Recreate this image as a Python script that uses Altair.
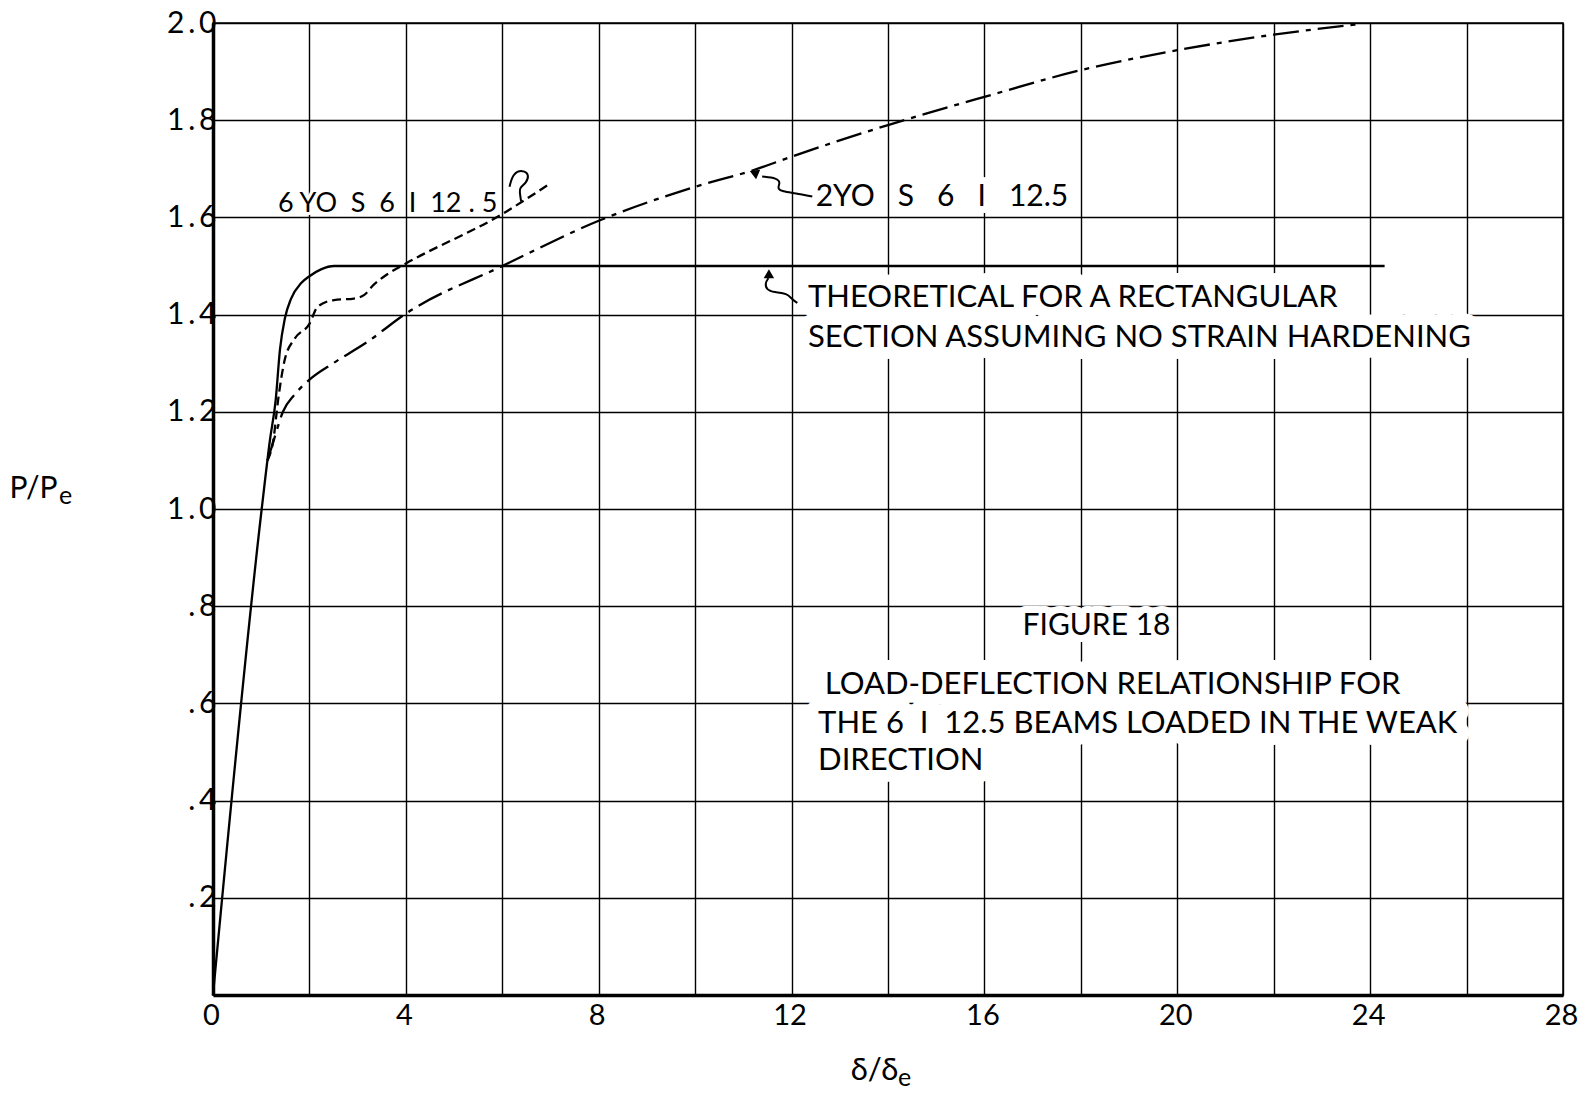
import altair as alt
import pandas as pd

# ---------------- data ----------------
theo_x = [0.0, 1.01, 1.18, 1.30, 1.39, 1.49, 1.62, 1.83, 2.0, 2.24, 2.51, 24.3]
theo_y = [0.0, 1.0, 1.141, 1.224, 1.329, 1.392, 1.433, 1.465, 1.479, 1.493, 1.5, 1.5]

s6_x = [1.13, 1.25, 1.35, 1.49, 1.69, 2.0, 2.17, 2.51, 2.92, 3.13, 3.33, 3.60, 4.0, 6.0, 6.98]
s6_y = [1.10, 1.141, 1.224, 1.308, 1.350, 1.381, 1.416, 1.430, 1.433, 1.440, 1.461, 1.482, 1.505, 1.607, 1.669]

s2_x = [1.13, 1.28, 1.45, 1.69, 2.0, 2.51, 3.19, 4.0, 6.0, 8.0, 10.0, 11.2, 12.0, 14.0, 16.0, 18.0, 20.0, 22.0, 23.8]
s2_y = [1.10, 1.148, 1.20, 1.235, 1.266, 1.301, 1.343, 1.402, 1.500, 1.593, 1.663, 1.697, 1.725, 1.79, 1.848, 1.903, 1.944, 1.976, 1.998]

# hand-drawn leader squiggles
lead6_x = [6.39, 6.36, 6.36, 6.50, 6.56, 6.43, 6.22, 6.15]
lead6_y = [1.633, 1.653, 1.661, 1.671, 1.688, 1.698, 1.691, 1.663]
lead2_x = [11.39, 11.70, 11.77, 11.70, 11.81, 12.08, 12.43]
lead2_y = [1.684, 1.681, 1.671, 1.660, 1.653, 1.650, 1.643]
leadT_x = [11.52, 11.45, 11.48, 11.64, 11.91, 12.01, 12.12]
leadT_y = [1.475, 1.465, 1.451, 1.446, 1.444, 1.431, 1.424]

arrow_x = [11.22, 11.53]
arrow_y = [1.692, 1.484]
arrow_shape = ["triangle-left", "triangle-up"]
arrow_angle = [23, 0]

NB = "\u00a0"
ann_text = [
    f"6{NB}YO{NB} S{NB} 6{NB} I{NB} 12{NB}.{NB}5",
    f"2YO{NB}{NB} S{NB}{NB} 6{NB}{NB} I{NB}{NB} 12.5",
    "THEORETICAL FOR A RECTANGULAR",
    "SECTION ASSUMING NO STRAIN HARDENING",
    "FIGURE 18",
    "LOAD-DEFLECTION RELATIONSHIP FOR",
    f"THE 6{NB} I{NB}  12.5 BEAMS LOADED IN THE WEAK",
    "DIRECTION",
]
ann_x = [1.35, 12.5, 12.34, 12.34, 16.79, 12.69, 12.55, 12.55]
ann_y = [1.628, 1.642, 1.434, 1.351, 0.759, 0.638, 0.558, 0.482]
ann_size = [27, 30, 31, 31, 30, 31, 31, 31]
ann_halo = [6, 14, 24, 24, 14, 24, 24, 24]

x_ticks = list(range(0, 29, 2))
y_ticks = [round(i * 0.2, 1) for i in range(11)]

FONT = "Lato"

# ---------------- frames ----------------
def frame(xs, ys):
    return pd.DataFrame({"x": xs, "y": ys, "i": list(range(len(xs)))})

theo_df = frame(theo_x, theo_y)
s6_df = frame(s6_x, s6_y)
s2_df = frame(s2_x, s2_y)
l6_df = frame(lead6_x, lead6_y)
l2_df = frame(lead2_x, lead2_y)
lT_df = frame(leadT_x, leadT_y)
arr_df = pd.DataFrame({"x": arrow_x, "y": arrow_y, "shape": arrow_shape, "angle": arrow_angle})
ann_df = pd.DataFrame({"t": ann_text, "x": ann_x, "y": ann_y, "s": ann_size, "h": ann_halo})

xs = alt.Scale(domain=[0, 28], nice=False, zero=False)
ys = alt.Scale(domain=[0, 2.0], nice=False, zero=False)

x_axis = alt.Axis(
    values=x_ticks,
    labelExpr="datum.value % 4 == 0 ? datum.label : ''",
    labelFont=FONT, labelFontSize=29, labelColor="black", labelPadding=6, labelOffset=-2,
    labelFlush=False,
    ticks=False, grid=True, gridColor="black", gridWidth=1.4,
    domainColor="black", domainWidth=3.5,
    title="δ/δ", titleFont=FONT, titleFontSize=31, titleFontWeight="normal", titleColor="black",
    titleX=661, titleY=75, titleAlign="center", titleBaseline="middle",
)
y_axis = alt.Axis(
    values=y_ticks,
    labelExpr="datum.value == 0 ? '' : replace((datum.value >= 1 ? format(datum.value, '.1f') : replace(format(datum.value, '.1f'), '0.', '.')), '.', '\u2009.\u2009')",
    labelFont=FONT, labelFontSize=30, labelColor="black", labelPadding=-3,
    ticks=False, grid=True, gridColor="black", gridWidth=1.4,
    domainColor="black", domainWidth=3.5,
    title="P/P", titleFont=FONT, titleFontSize=30, titleFontWeight="normal", titleColor="black",
    titleAngle=0, titleX=-180, titleY=465, titleAlign="center", titleBaseline="middle",
)

def X():
    return alt.X("x:Q", scale=xs, axis=x_axis)

def Y():
    return alt.Y("y:Q", scale=ys, axis=y_axis)

def curve(df, dash=None, interp="monotone", width=2.3):
    kw = dict(color="black", strokeWidth=width, interpolate=interp)
    if dash:
        kw["strokeDash"] = dash
    return alt.Chart(df).mark_line(**kw).encode(x=X(), y=Y(), order="i:Q")

theo = curve(theo_df)
six = curve(s6_df, dash=[9, 5])
two = curve(s2_df, dash=[26, 7, 5, 7])
l6 = curve(l6_df, interp="basis", width=2)
l2 = curve(l2_df, interp="basis", width=2)
lT = curve(lT_df, interp="basis", width=2)

arrows = alt.Chart(arr_df).mark_point(filled=True, color="black", opacity=1, size=110).encode(
    x=X(), y=Y(),
    shape=alt.Shape("shape:N", scale=None),
    angle=alt.Angle("angle:Q", scale=None),
)

halo = alt.Chart(ann_df).mark_text(
    align="left", baseline="middle", font=FONT, fill="white", stroke="white", strokeJoin="round"
).encode(
    x=X(), y=Y(), text="t:N",
    size=alt.Size("s:Q", scale=None),
    strokeWidth=alt.StrokeWidth("h:Q", scale=None),
)
label = alt.Chart(ann_df).mark_text(
    align="left", baseline="middle", font=FONT, color="black"
).encode(x=X(), y=Y(), text="t:N", size=alt.Size("s:Q", scale=None))

# subscript "e" of the two axis titles
sub_y = alt.Chart(pd.DataFrame({"t": ["e"]})).mark_text(
    text="e", align="left", baseline="alphabetic", font=FONT, fontSize=25, color="black"
).encode(x=alt.value(-154), y=alt.value(481))
sub_x = alt.Chart(pd.DataFrame({"t": ["e"]})).mark_text(
    text="e", align="left", baseline="alphabetic", font=FONT, fontSize=25, color="black"
).encode(x=alt.value(685), y=alt.value(1063))

chart = alt.layer(halo, theo, six, two, l6, l2, lT, arrows, label, sub_y, sub_x).properties(
    width=1350,
    height=972,
    padding={"left": 213, "top": 23, "right": 22, "bottom": 100},
    autosize=alt.AutoSizeParams(type="none"),
    background="white",
).configure_view(stroke="black", strokeWidth=1.5)

chart.save("out.html", embed_options={"renderer": "svg", "actions": False})
